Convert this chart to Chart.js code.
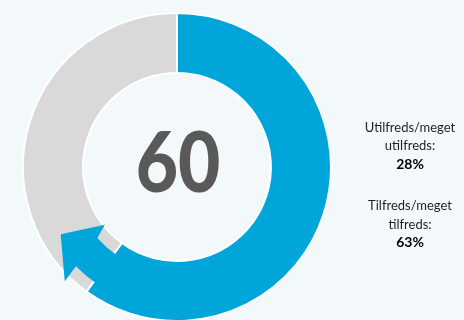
<!DOCTYPE html>
<html>
<head>
<meta charset="utf-8">
<script src="https://cdn.jsdelivr.net/npm/chart.js@4"></script>
<style>
  html, body { margin: 0; padding: 0; background: #f3f8fb; overflow: hidden; }
  #wrap { width: 464px; height: 320px; overflow: hidden; }
</style>
</head>
<body>
<div id="wrap"><canvas id="score-chart" width="464" height="324"></canvas></div>
<script>
// data
const segments = ['Score', 'Rest'];
const values = [60, 40];
const groupLabels = [['Utilfreds/meget', 'utilfreds:'], ['Tilfreds/meget', 'tilfreds:']];
const groupValues = ['28%', '63%'];

const BLUE = '#00a5da';
const GREY = '#d9d9d9';

// arrow head at the end of the blue arc
const arrowPlugin = {
    id: 'arrow',
    afterDatasetsDraw(chart) {
        const arc = chart.getDatasetMeta(0).data[0];
        const ctx = chart.ctx;
        const cx = arc.x, cy = arc.y, R = arc.outerRadius;
        const e = arc.endAngle;
        const d = deg => deg * Math.PI / 180;
        const pt = (r, a) => [cx + r * R * Math.cos(a), cy + r * R * Math.sin(a)];

        ctx.save();
        ctx.fillStyle = BLUE;
        ctx.beginPath();
        ctx.arc(cx, cy, 0.92 * R, e - d(1), e + d(9.5));
        ctx.lineTo(...pt(1.04, e + d(8.5)));
        ctx.lineTo(...pt(0.872, e + d(24)));
        ctx.lineTo(...pt(0.6, e + d(15.3)));
        ctx.lineTo(...pt(0.693, e + d(12.3)));
        ctx.arc(cx, cy, 0.693 * R, e + d(12.3), e - d(1), true);
        ctx.closePath();
        ctx.fill();
        ctx.restore();
    },
    afterDraw(chart) {
        const ctx = chart.ctx;
        const arc = chart.getDatasetMeta(0).data[0];
        ctx.save();
        // centre number
        ctx.fillStyle = '#595959';
        ctx.textAlign = 'center';
        ctx.textBaseline = 'alphabetic';
        ctx.font = '900 83px Lato';
        ctx.translate(arc.x + 1, 192);
        ctx.scale(0.88, 1);
        ctx.fillText(String(values[0]), 0, 0);
        ctx.restore();

        // side notes
        ctx.save();
        ctx.textAlign = 'center';
        const tops = [131.5, 210];
        groupLabels.forEach((lines, i) => {
            let y = tops[i];
            ctx.fillStyle = '#1f1f1f';
            ctx.font = '13px Lato';
            lines.forEach(l => { ctx.fillText(l, 410, y); y += 18.5; });
            ctx.fillStyle = '#000';
            ctx.font = 'bold 14px Lato';
            ctx.fillText(groupValues[i], 410, y);
        });
        ctx.restore();
    }
};

new Chart(document.getElementById('score-chart'), {
    type: 'doughnut',
    data: {
        labels: segments,
        datasets: [{
            data: values,
            backgroundColor: [BLUE, GREY],
            borderColor: '#ffffff',
            borderWidth: 2
        }]
    },
    options: {
        responsive: false,
        animation: false,
        cutout: '61%',
        layout: { padding: { left: 22, right: 132, top: 12, bottom: 2 } },
        plugins: {
            legend: { display: false },
            tooltip: { enabled: false }
        }
    },
    plugins: [arrowPlugin]
});
</script>
</body>
</html>
